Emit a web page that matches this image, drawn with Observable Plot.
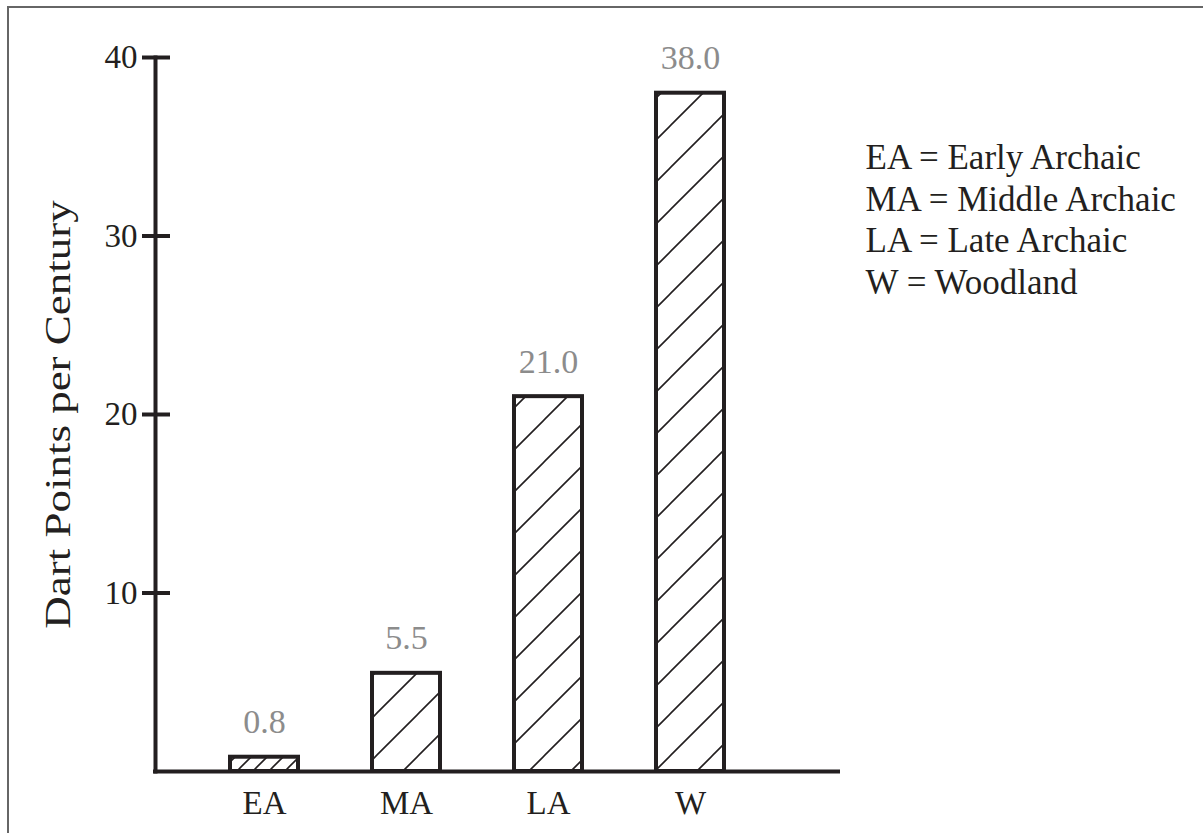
<!DOCTYPE html>
<html>
<head>
<meta charset="utf-8">
<script src="https://cdn.jsdelivr.net/npm/d3@7"></script>
<script src="https://cdn.jsdelivr.net/npm/@observablehq/plot@0.6"></script>
<style>
  html, body { margin: 0; padding: 0; background: #fff; }
  #wrap { position: relative; width: 1203px; height: 833px; overflow: hidden; }
  #border { position: absolute; left: 7px; top: 6px; width: 1210px; height: 840px;
            border-left: 2px solid #666; border-top: 2px solid #666; pointer-events: none; }
</style>
</head>
<body>
<div id="wrap"><div id="chart"></div><div id="border"></div></div>
<script>
const categories = ["EA", "MA", "LA", "W"];
const values = [0.8, 5.5, 21.0, 38.0];
const valueLabels = ["0.8", "5.5", "21.0", "38.0"];
const yTicks = [10, 20, 30, 40];
const yLabel = "Dart Points per Century";
const legendLines = ["EA = Early Archaic", "MA = Middle Archaic", "LA = Late Archaic", "W = Woodland"];

const data = categories.map((c, i) => ({cat: c, value: values[i], label: valueLabels[i]}));
const ink = "#231f20";

const chart = Plot.plot({
  width: 1203,
  height: 833,
  marginLeft: 155,
  marginRight: 365,
  marginTop: 57,
  marginBottom: 62,
  style: {fontFamily: "'Liberation Serif', serif", fontSize: "32px", color: ink, background: "white"},
  x: {domain: categories, range: [193, 761], paddingInner: 0.52, paddingOuter: 0.26, label: null},
  y: {domain: [0, 40], label: null},
  marks: [
    Plot.rectY(data.filter(d => d.cat === "EA"), {x: "cat", y: "value", fill: "url(#hatchFine)", stroke: ink, strokeWidth: 4}),
    Plot.rectY(data.filter(d => d.cat !== "EA"), {x: "cat", y: "value", fill: "url(#hatch)", stroke: ink, strokeWidth: 4}),
    Plot.text(data, {x: "cat", y: "value", text: "label", dy: -24, lineAnchor: "bottom", fill: "#8c8c8c", fontSize: 34}),
    Plot.frame({anchor: "left", stroke: ink, strokeWidth: 4, strokeLinecap: "square"}),
    Plot.ruleY([0], {stroke: ink, strokeWidth: 4, strokeLinecap: "square"}),
    Plot.axisY(yTicks, {tickSize: 28, dx: 15, tickPadding: 5, strokeWidth: 4, stroke: ink, fill: ink, fontSize: 33, label: null}),
    Plot.axisX({tickSize: 0, tickPadding: 19, fontSize: 33, fill: ink, label: null}),
    Plot.text([yLabel], {frameAnchor: "left", dx: -97, rotate: -90, textAnchor: "middle", lineAnchor: "middle", fontSize: 36, fill: ink}),
    Plot.text([legendLines.join("\n")], {frameAnchor: "top-left", dx: 710, dy: 82, textAnchor: "start", lineAnchor: "top", lineHeight: 1.19, fontSize: 35, fill: ink})
  ]
});

const svg = d3.select(chart);
const defs = svg.insert("defs", ":first-child");
const s = 42;
defs.append("pattern")
  .attr("id", "hatch").attr("patternUnits", "userSpaceOnUse")
  .attr("width", s).attr("height", s)
  .attr("patternTransform", "translate(40,0)")
  .call(p => {
    p.append("rect").attr("width", s).attr("height", s).attr("fill", "white");
    p.append("path")
      .attr("d", `M0,${s} L${s},0 M${-s/4},${s/4} L${s/4},${-s/4} M${3*s/4},${5*s/4} L${5*s/4},${3*s/4}`)
      .attr("stroke", ink).attr("stroke-width", 1.6);
  });
const f = 16;
defs.append("pattern")
  .attr("id", "hatchFine").attr("patternUnits", "userSpaceOnUse")
  .attr("width", f).attr("height", f)
  .call(p => {
    p.append("rect").attr("width", f).attr("height", f).attr("fill", "white");
    p.append("path")
      .attr("d", `M0,${f} L${f},0 M${-f/4},${f/4} L${f/4},${-f/4} M${3*f/4},${5*f/4} L${5*f/4},${3*f/4}`)
      .attr("stroke", ink).attr("stroke-width", 1.6);
  });

// stretch the rotated axis title along its length, as in the reference
svg.selectAll("text").filter(function() { return this.textContent === yLabel; }).each(function() {
  const t = d3.select(this);
  const tr = t.attr("transform");
  if (tr) t.attr("transform", tr + " scale(1.25,1)");
  else {
    const g = d3.select(this.parentNode);
    g.attr("transform", (g.attr("transform") || "") + "");
  }
});

document.getElementById("chart").appendChild(chart);
</script>
</body>
</html>
